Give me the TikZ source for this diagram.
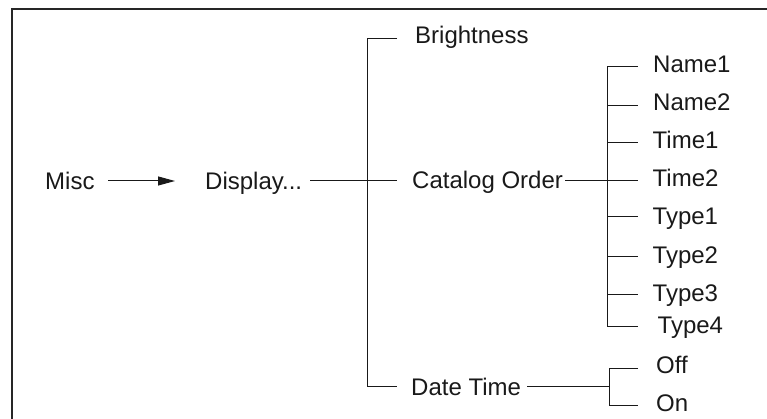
\documentclass[tikz,border=0pt]{standalone}
\usepackage{fontspec}
\setmainfont{Liberation Sans}
\usetikzlibrary{arrows.meta}
\begin{document}
\begin{tikzpicture}[x=1pt,y=-1pt,
  lbl/.style={anchor=base west, inner sep=0pt, font=\fontsize{24}{28}\selectfont, text=black!90},
  conn/.style={draw=black!90, line width=1pt},
  framel/.style={draw=black!85, line width=2pt}]
\useasboundingbox (0,0) rectangle (767,419);
% frame
\coordinate (fTR) at (767,9);
\coordinate (fTL) at (12,9);
\coordinate (fBL) at (12,419);
\draw[framel] (fTR) -- (fTL) -- (fBL);
% labels
\node[lbl] (misc) at (45,190) {Misc};
\node[lbl] (disp) at (205,190) {Display...};
\node[lbl] (bright) at (415,44) {Brightness};
\node[lbl] (cat) at (412,189) {Catalog Order};
\node[lbl] (dt) at (411,395) {Date Time};
\node[lbl] (n1) at (653,73) {Name1};
\node[lbl] (n2) at (653,111) {Name2};
\node[lbl] (t1) at (652.5,149) {Time1};
\node[lbl] (t2) at (652.5,187) {Time2};
\node[lbl] (y1) at (652.5,225) {Type1};
\node[lbl] (y2) at (652.5,264) {Type2};
\node[lbl] (y3) at (652.5,301) {Type3};
\node[lbl] (y4) at (657.5,333) {Type4};
\node[lbl] (off) at (656,373) {Off};
\node[lbl] (on) at (656,411) {On};
% connector points
\coordinate (a0) at (108,181);
\coordinate (a1) at (175,181);
\coordinate (d0) at (310,181);
\coordinate (d1) at (397,181);
\coordinate (b1t) at (367,39);
\coordinate (b1b) at (367,386);
\coordinate (b1te) at (397,39);
\coordinate (b1be) at (397,386);
\coordinate (c0) at (565,181);
\coordinate (c1) at (638,181);
\coordinate (b2t) at (607,67);
\coordinate (b2b) at (607,326);
\coordinate (e0) at (527,386);
\coordinate (e1) at (609,386);
\coordinate (b3t) at (609,368);
\coordinate (b3b) at (609,405);
% connectors
\draw[conn, -{Triangle[length=17pt,width=9pt]}] (a0) -- (a1);
\draw[conn] (d0) -- (d1);
\draw[conn] (b1te) -- (b1t) -- (b1b) -- (b1be);
\draw[conn] (c0) -- (c1);
\draw[conn] (b2t) -- (b2b);
\foreach \yy in {67,106,143,181,217,257,294,326}{
  \draw[conn] (b2t |- 0,\yy) -- (638,\yy);
}
\draw[conn] (e0) -- (e1);
\draw[conn] (638,368) -- (b3t) -- (b3b) -- (638,405);
\end{tikzpicture}
\end{document}
